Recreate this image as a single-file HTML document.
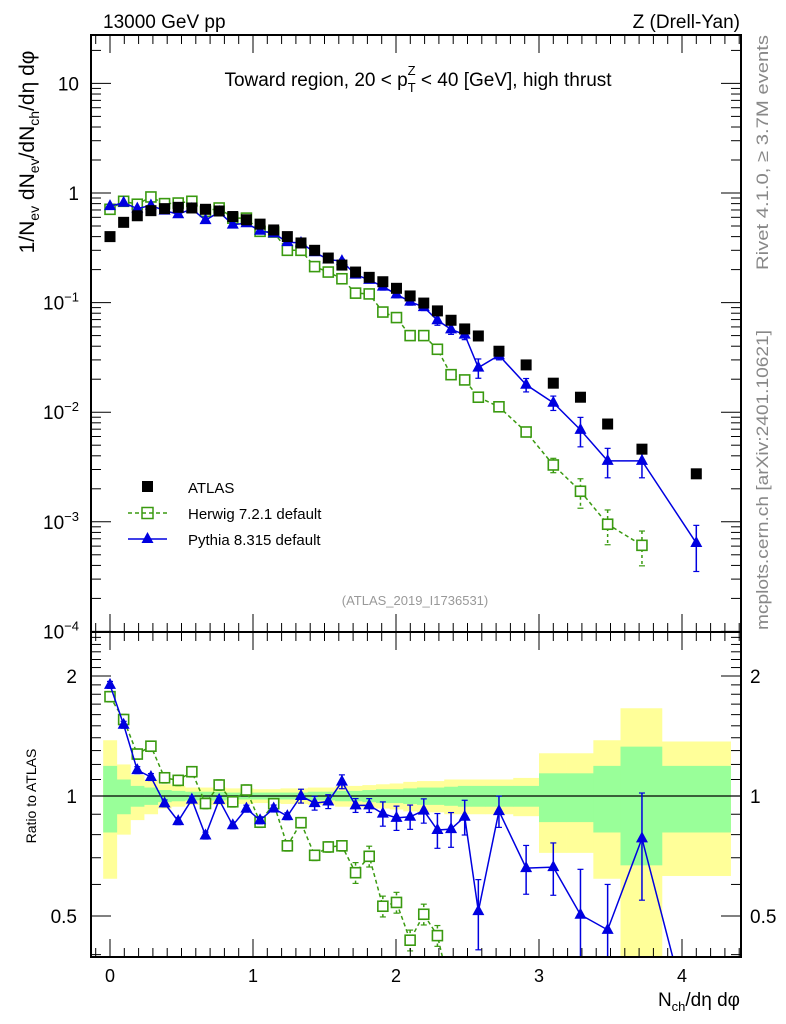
<!DOCTYPE html>
<html><head><meta charset="utf-8">
<style>
html,body{margin:0;padding:0;background:#fff;overflow:hidden;}
svg{display:block;font-family:"Liberation Sans",sans-serif;}
</style></head>
<body>
<svg id="chart" width="786" height="1024" viewBox="0 0 786 1024" xmlns="http://www.w3.org/2000/svg">
<text x="103" y="28" font-size="19">13000 GeV pp</text>
<text x="740" y="28" font-size="19" text-anchor="end">Z (Drell-Yan)</text>
<text x="418" y="86" font-size="19" text-anchor="middle">Toward region, 20 &lt; p<tspan font-size="13" dy="6">T</tspan><tspan font-size="13" dx="-8" dy="-17">Z</tspan><tspan dy="11"> &lt; 40 [GeV], high thrust</tspan></text>
<text transform="translate(34,152) rotate(-90)" font-size="21" text-anchor="middle">1/N<tspan font-size="14" dy="5">ev</tspan><tspan dy="-5"> dN</tspan><tspan font-size="14" dy="5">ev</tspan><tspan dy="-5">/dN</tspan><tspan font-size="14" dy="5">ch</tspan><tspan dy="-5">/dη dφ</tspan></text>
<text transform="translate(768,270) rotate(-90)" font-size="17" fill="#888" textLength="235" lengthAdjust="spacingAndGlyphs">Rivet 4.1.0, ≥ 3.7M events</text>
<text transform="translate(768,630) rotate(-90)" font-size="17" fill="#888" textLength="300" lengthAdjust="spacingAndGlyphs">mcplots.cern.ch [arXiv:2401.10621]</text>
<text x="415" y="605" font-size="13" fill="#999" text-anchor="middle">(ATLAS_2019_I1736531)</text>
<text transform="translate(36,796) rotate(-90)" font-size="14" text-anchor="middle">Ratio to ATLAS</text>
<text x="740" y="1006" font-size="19" text-anchor="end">N<tspan font-size="13" dy="5">ch</tspan><tspan dy="-5">/dη dφ</tspan></text>
<g>
<rect x="142" y="481" width="11" height="11" fill="#000"/>
<text x="188" y="493" font-size="15">ATLAS</text>
<line x1="128" y1="513" x2="167" y2="513" stroke="#3a9a10" stroke-width="1.5" stroke-dasharray="4,3"/>
<rect x="142" y="507.5" width="11" height="11" fill="none" stroke="#3a9a10" stroke-width="1.5"/>
<text x="188" y="519" font-size="15">Herwig 7.2.1 default</text>
<line x1="128" y1="539" x2="167" y2="539" stroke="#0000e0" stroke-width="1.5"/>
<polygon points="147.5,532 153.5,543 141.5,543" fill="#0000e0"/>
<text x="188" y="545" font-size="15">Pythia 8.315 default</text>
</g>
<g id="layer"></g>
</svg>
<script>
const xVals=[0,0.0954,0.1908,0.2862,0.3816,0.477,0.5724,0.6678,0.7632,0.8586,0.954,1.0494,1.1448,1.2402,1.3356,1.431,1.5264,1.6218,1.7172,1.8126,1.908,2.0034,2.0988,2.1942,2.2896,2.385,2.4804,2.5758,2.72,2.91,3.10,3.29,3.48,3.72,4.10];
const binEdges=[-0.0477,0.0477,0.1431,0.2385,0.3339,0.4293,0.5247,0.6201,0.7155,0.8109,0.9063,1.0017,1.0971,1.1925,1.2879,1.3833,1.4787,1.5741,1.6695,1.7649,1.8603,1.9557,2.0511,2.1465,2.2419,2.3373,2.4327,2.5281,2.624,2.82,3.0,3.19,3.38,3.57,3.86,4.34];
const atlas=[0.40,0.54,0.62,0.69,0.72,0.74,0.73,0.71,0.685,0.61,0.57,0.52,0.46,0.40,0.35,0.30,0.255,0.22,0.19,0.17,0.155,0.135,0.115,0.099,0.084,0.069,0.0575,0.0496,0.036,0.027,0.0184,0.0137,0.0078,0.0046,0.00274];
const statErr=[.19,.10,.06,.05,.035,.03,.025,.025,.025,.02,.02,.02,.02,.02,.02,.025,.025,.03,.03,.035,.04,.04,.045,.05,.05,.055,.06,.06,.06,.06,.14,.14,.19,.33,.19];
const totErr=[.38,.20,.13,.10,.07,.06,.05,.05,.05,.045,.045,.04,.04,.045,.045,.05,.05,.06,.06,.065,.07,.075,.085,.09,.09,.10,.10,.10,.10,.11,.28,.28,.38,.66,.37];
const pythia=[0.76,0.815,0.72,0.77,0.69,0.64,0.715,0.565,0.67,0.515,0.53,0.452,0.428,0.356,0.35,0.288,0.247,0.239,0.18,0.161,0.14,0.119,0.102,0.091,0.069,0.057,0.051,0.0255,0.033,0.0178,0.0122,0.0069,0.0036,0.0036,0.00064];
const pythiaErr=[.02,.02,.02,.02,.02,.02,.02,.02,.02,.02,.02,.02,.02,.02,.04,.04,.04,.04,.04,.04,.07,.07,.07,.07,.1,.1,.1,.2,.09,.14,.15,.3,.3,.3,.45];
const herwig=[0.71,0.84,0.79,0.92,0.80,0.81,0.84,0.68,0.73,0.59,0.59,0.447,0.44,0.30,0.30,0.213,0.19,0.165,0.122,0.12,0.082,0.073,0.05,0.05,0.0375,0.022,0.0197,0.0137,0.0112,0.0066,0.0033,0.0019,0.00095,0.00061];
const herwigErr=[.03,.03,.03,.03,.03,.03,.03,.03,.03,.03,.03,.03,.03,.03,.03,.03,.03,.03,.06,.06,.06,.06,.06,.06,.06,.07,.07,.07,.07,.1,.15,.3,.35,.35];
const mainTicks=[[10,"10"],[1,"1"],[0.1,"10<sup>−1</sup>"],[0.01,"10<sup>−2</sup>"],[0.001,"10<sup>−3</sup>"],[0.0001,"10<sup>−4</sup>"]];
const ratioTicks=[2,1,0.5];
const xTicks=[0,1,2,3,4];

const L=91,R=741,MT=35,MB=632,RT=632,RB=957;
const X=v=>110+v*143;
const Y=v=>193-Math.log10(v)*109.6;
const RY=v=>796-Math.log2(v)*120;
const NS="http://www.w3.org/2000/svg";
const layer=document.getElementById('layer');
function mk(tag,attrs,parent){const e=document.createElementNS(NS,tag);for(const k in attrs)e.setAttribute(k,attrs[k]);(parent||layer).appendChild(e);return e;}

const defs=mk('defs',{});
const c1=mk('clipPath',{id:'cm'},defs);mk('rect',{x:L,y:MT,width:R-L,height:MB-MT},c1);
const c2=mk('clipPath',{id:'cr'},defs);mk('rect',{x:L,y:RT,width:R-L,height:RB-RT},c2);
const gM=mk('g',{'clip-path':'url(#cm)'});


const gR=mk('g',{'clip-path':'url(#cr)'});



function edges(i){return [binEdges[i],binEdges[i+1]];}

for(let i=0;i<xVals.length;i++){const [lo,hi]=edges(i);
 const y=mk('rect',{x:X(lo),width:X(hi)-X(lo)+0.3,y:RY(1+totErr[i]),height:RY(Math.max(1-totErr[i],0.01))-RY(1+totErr[i]),fill:'#ffff99'},gR);
 
 
}
for(let i=0;i<xVals.length;i++){const [lo,hi]=edges(i);
 const g=mk('rect',{x:X(lo),width:X(hi)-X(lo)+0.3,y:RY(1+statErr[i]),height:RY(1-statErr[i])-RY(1+statErr[i]),fill:'#99ff99'},gR);
 
 
}
mk('line',{x1:L,x2:R,y1:RY(1),y2:RY(1),stroke:'#000','stroke-width':1.2},gR);

function series(vals,errs,color,dash,kind,g,yf,name){
 let pts=vals.map((v,i)=>X(xVals[i])+','+yf(v,i)).join(' ');
 const pl=mk('polyline',{points:pts,fill:'none',stroke:color,'stroke-width':1.5},g);
 if(dash)pl.setAttribute('stroke-dasharray','4,3');
 
 
 vals.forEach((v,i)=>{const x=X(xVals[i]);const y=yf(v,i);
  const y1=yf(v*(1+errs[i]),i),y2=yf(v*(1-errs[i]),i);
  const eb=mk('line',{x1:x,x2:x,y1:y1,y2:y2,stroke:color,'stroke-width':1.5},g);
  if(dash)eb.setAttribute('stroke-dasharray','3,3');
  
  
  mk('line',{x1:x-3,x2:x+3,y1:y1,y2:y1,stroke:color,'stroke-width':1.2},g);
  mk('line',{x1:x-3,x2:x+3,y1:y2,y2:y2,stroke:color,'stroke-width':1.2},g);
  let m;
  if(kind==='sq'){m=mk('rect',{x:x-5,y:y-5,width:10,height:10,fill:'#fff',stroke:color,'stroke-width':1.6},g);}
  else{m=mk('polygon',{points:`${x},${y-7} ${x+6},${y+4} ${x-6},${y+4}`,fill:color},g);}
  
  
 });
}
series(herwig,herwigErr,'#3a9a10',true,'sq',gM,v=>Y(v),'herwig');
series(pythia,pythiaErr,'#0000e0',false,'tri',gM,v=>Y(v),'pythia');
atlas.forEach((v,i)=>{const r=mk('rect',{x:X(xVals[i])-5.5,y:Y(v)-5.5,width:11,height:11,fill:'#000'},gM);
 
 });
series(herwig,herwigErr,'#3a9a10',true,'sq',gR,(v,i)=>RY(v/atlas[i]),'herwig-ratio');
series(pythia,pythiaErr,'#0000e0',false,'tri',gR,(v,i)=>RY(v/atlas[i]),'pythia-ratio');

const f1=mk('rect',{x:L,y:MT,width:R-L,height:MB-MT,fill:'none',stroke:'#000','stroke-width':2});


const f2=mk('rect',{x:L,y:RT,width:R-L,height:RB-RT,fill:'none',stroke:'#000','stroke-width':2});



for(let k=-1;k<=46;k++){const v=k/10;const x=X(v);if(x<L||x>R)continue;const maj=k%10===0;const len=maj?18:9;
 [[MT,1],[MB,-1],[RT,1],[RB,-1]].forEach(([y0,d])=>mk('line',{x1:x,x2:x,y1:y0,y2:y0+d*len,stroke:'#000','stroke-width':1}));}
xTicks.forEach(v=>{const t=mk('text',{x:X(v),y:982,'font-size':18,'text-anchor':'middle'});t.textContent=v;
 
 });

for(let e=-4;e<=1;e++){for(let m=1;m<=9;m++){const v=m*Math.pow(10,e);const y=Y(v);if(y<MT||y>MB)continue;const len=m===1?20:10;
 mk('line',{x1:L,x2:L+len,y1:y,y2:y,stroke:'#000','stroke-width':1});mk('line',{x1:R,x2:R-len,y1:y,y2:y,stroke:'#000','stroke-width':1});}}
mainTicks.forEach(([v,lab])=>{const y=Y(v);
 const t=mk('text',{x:79,y:y+7,'font-size':19,'text-anchor':'end'});
 if(lab.includes('sup')){const p=lab.split('<sup>');t.textContent=p[0];const ts=mk('tspan',{'font-size':13,dy:-8},t);ts.textContent=p[1].replace('</sup>','');}
 else t.textContent=lab;
 
 });
[0.4,0.5,0.6,0.7,0.8,0.9,1,1.1,1.2,1.3,1.4,1.5,1.6,1.7,1.8,1.9,2,2.1,2.2,2.3,2.4,2.5].forEach(v=>{const y=RY(v);if(y<RT||y>RB)return;const len=ratioTicks.includes(v)?20:10;
 mk('line',{x1:L,x2:L+len,y1:y,y2:y,stroke:'#000','stroke-width':1});mk('line',{x1:R,x2:R-len,y1:y,y2:y,stroke:'#000','stroke-width':1});});
ratioTicks.forEach(v=>{const y=RY(v);
 const t=mk('text',{x:77,y:y+7,'font-size':19,'text-anchor':'end'});t.textContent=v;
 
 
 const t2=mk('text',{x:750,y:y+7,'font-size':19});t2.textContent=v;
 
 });
</script>
</body></html>
